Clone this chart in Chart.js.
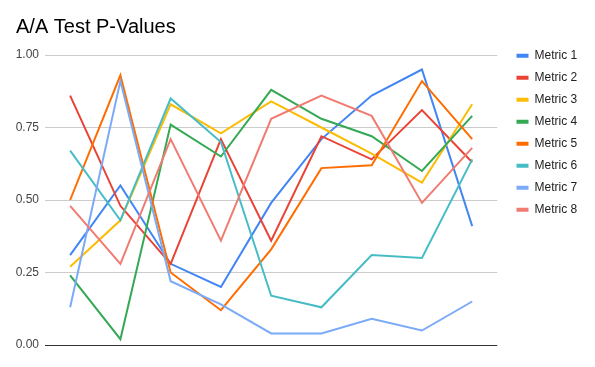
<!DOCTYPE html>
<html>
<head>
<meta charset="utf-8">
<script src="https://cdn.jsdelivr.net/npm/chart.js@4.4.1/dist/chart.umd.min.js"></script>
<style>
  html, body { margin: 0; padding: 0; background: #fff; }
  #wrap { width: 595px; height: 367px; }
</style>
</head>
<body>
<div id="wrap"><canvas id="chart"></canvas></div>
<script>
// runs on the x axis (labels are hidden in the original)
const runs = ['1', '2', '3', '4', '5', '6', '7', '8', '9'];

const metric1 = [0.31, 0.55, 0.28, 0.20, 0.49, 0.71, 0.86, 0.95, 0.41];
const metric2 = [0.86, 0.48, 0.28, 0.71, 0.36, 0.72, 0.64, 0.81, 0.63];
const metric3 = [0.27, 0.43, 0.83, 0.73, 0.84, 0.75, 0.66, 0.56, 0.83];
const metric4 = [0.24, 0.02, 0.76, 0.65, 0.88, 0.78, 0.72, 0.60, 0.79];
const metric5 = [0.50, 0.93, 0.25, 0.12, 0.33, 0.61, 0.62, 0.91, 0.71];
const metric6 = [0.67, 0.43, 0.85, 0.70, 0.17, 0.13, 0.31, 0.30, 0.64];
const metric7 = [0.13, 0.91, 0.22, 0.14, 0.04, 0.04, 0.09, 0.05, 0.15];
const metric8 = [0.48, 0.28, 0.71, 0.36, 0.78, 0.86, 0.79, 0.49, 0.68];

const yTicks = [0, 0.25, 0.5, 0.75, 1];

const FONT = "'Liberation Sans', Arial, sans-serif";

const series = [
    { label: 'Metric 1', data: metric1, color: '#4285F4' },
    { label: 'Metric 2', data: metric2, color: '#EA4335' },
    { label: 'Metric 3', data: metric3, color: '#FBBC04' },
    { label: 'Metric 4', data: metric4, color: '#34A853' },
    { label: 'Metric 5', data: metric5, color: '#FF6D01' },
    { label: 'Metric 6', data: metric6, color: '#46BDC6' },
    { label: 'Metric 7', data: metric7, color: '#7BAAF7' },
    { label: 'Metric 8', data: metric8, color: '#F07B72' }
];

// Sheets puts the legend level with the top gridline, nudge it there
const legendNudge = {
    id: 'legendNudge',
    afterLayout(chart) {
        const lg = chart.legend;
        const dx = 506.5 - lg.left;
        const dy = 39.7 - lg.top;
        lg.left += dx;
        lg.right += dx;
        lg.top += dy;
        lg.bottom += dy;
    }
};

new Chart(document.getElementById('chart'), {
    type: 'line',
    data: {
        labels: runs,
        datasets: series.map((s, i) => ({
            label: s.label,
            data: s.data,
            borderColor: s.color,
            backgroundColor: s.color,
            borderWidth: 2,
            pointRadius: 0,
            tension: 0,
            fill: false,
            order: series.length - i
        }))
    },
    options: {
        responsive: true,
        maintainAspectRatio: false,
        animation: false,
        layout: {
            padding: { left: 16, right: 17, top: 0, bottom: 22 }
        },
        plugins: {
            title: {
                display: true,
                text: 'A/A Test P-Values',
                align: 'start',
                color: '#000',
                font: { family: FONT, size: 20, weight: 'normal', lineHeight: 1.2 },
                padding: { top: 15.1, bottom: 15.9 }
            },
            legend: {
                position: 'right',
                align: 'start',
                reverse: true,
                labels: {
                    boxWidth: 12,
                    boxHeight: 4,
                    padding: 10,
                    color: '#222',
                    font: { family: FONT, size: 12 },
                    generateLabels: (chart) => Chart.defaults.plugins.legend.labels
                        .generateLabels(chart).map(l => ({ ...l, lineWidth: 0 }))
                }
            },
            tooltip: { enabled: false }
        },
        scales: {
            x: {
                display: false,
                offset: true
            },
            y: {
                min: 0,
                max: 1,
                afterFit: (scale) => { scale.width = 29; },
                afterBuildTicks: (scale) => { scale.ticks = yTicks.map(v => ({ value: v })); },
                ticks: {
                    padding: 6,
                    color: '#444',
                    font: { family: FONT, size: 12 },
                    callback: (v) => v.toFixed(2)
                },
                grid: {
                    drawTicks: false,
                    color: (ctx) => ctx.tick && ctx.tick.value === 0 ? '#333' : '#ccc'
                },
                border: { display: false }
            }
        }
    },
    plugins: [legendNudge]
});
</script>
</body>
</html>
